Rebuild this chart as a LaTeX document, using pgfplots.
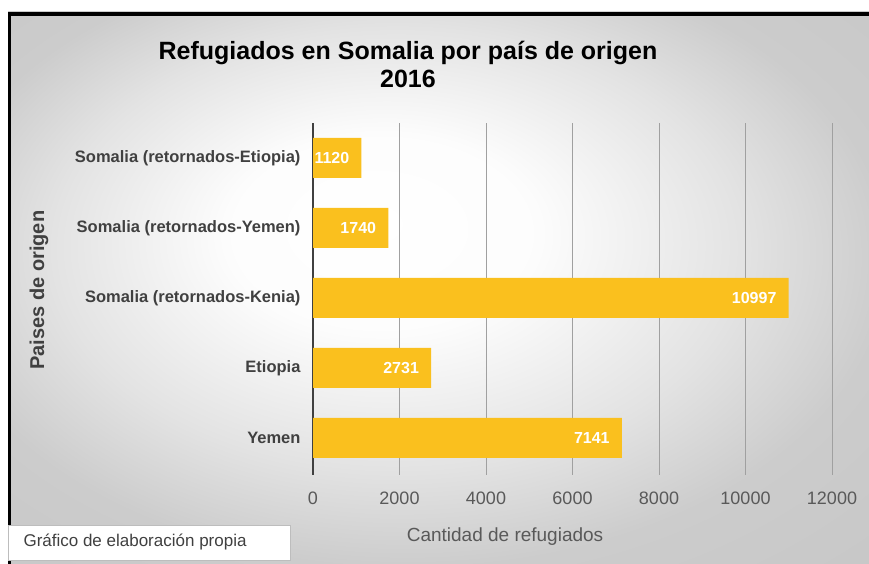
\documentclass[border=0pt]{standalone}
\usepackage{pgfplots}
\pgfplotsset{compat=1.18}
\usepackage{fontspec}
\setmainfont{Liberation Sans}
\definecolor{barcol}{RGB}{250,192,30}
\definecolor{labgray}{RGB}{64,64,64}
\definecolor{tickgray}{RGB}{89,89,89}
\definecolor{gridgray}{RGB}{160,160,160}
\pgfdeclareradialshading{bgshade}{\pgfpoint{-4bp}{6bp}}{%
  rgb(0bp)=(1,1,1); rgb(9bp)=(0.99,0.99,0.99); rgb(20bp)=(0.89,0.89,0.89);
  rgb(28bp)=(0.80,0.80,0.80); rgb(50bp)=(0.76,0.76,0.76)}
\begin{document}
\begin{tikzpicture}[x=1pt,y=1pt]
  \useasboundingbox (0,0) rectangle (869,564);
  \fill[white] (0,0) rectangle (869,564);
  \shade[shading=bgshade] (8,0) rectangle (869,552);
  \fill[black] (8,548) rectangle (869,552);
  \fill[black] (8,0) rectangle (11,552);

  \node[font=\bfseries\fontsize{25}{28}\selectfont, align=center] at (408,500)
    {Refugiados en Somalia por país de origen\\2016};

  \begin{axis}[
      at={(313pt,89pt)}, anchor=south west,
      scale only axis, width=519pt, height=352pt,
      xbar, bar width=40pt,
      xmin=0, xmax=12000, ymin=-0.53, ymax=4.5,
      xtick={0,2000,...,12000},
      ytick={0,1,2,3,4},
      yticklabels={Yemen, Etiopia, Somalia (retornados-Kenia),
        Somalia (retornados-Yemen), Somalia (retornados-Etiopia)},
      scaled x ticks=false,
      /pgf/number format/1000 sep={},
      /pgf/number format/assume math mode=true,
      axis y line*=left, axis x line*=bottom,
      x axis line style={draw=none},
      y axis line style={draw=labgray, line width=1.6pt},
      major tick length=0pt,
      xmajorgrids, grid style={gridgray, line width=0.9pt},
      x tick label style={font=\fontsize{18}{18}\selectfont, text=tickgray, yshift=-13pt},
      y tick label style={font=\bfseries\fontsize{16.5}{17}\selectfont, text=labgray, xshift=-9pt},
      xlabel={Cantidad de refugiados},
      xlabel style={at={(axis description cs:0.37,-0.176)}, anchor=center,
        font=\fontsize{19}{19}\selectfont, text=tickgray},
      ylabel={Paises de origen},
      ylabel style={at={(axis description cs:-0.528,0.525)}, anchor=center, rotate=0,
        font=\bfseries\fontsize{20}{20}\selectfont, text=labgray},
      nodes near coords,
      nodes near coords style={anchor=east, xshift=-11pt, inner sep=1pt,
        text=white, font=\bfseries\fontsize{16}{16}\selectfont},
    ]
    \addplot[fill=barcol, draw=none] coordinates {
      (7141,0) (2731,1) (10997,2) (1740,3) (1120,4)};
  \end{axis}

  \draw[fill=white, draw=gridgray!70, line width=0.8pt] (8,4) rectangle (290,39);
  \node[anchor=west, font=\fontsize{17}{17}\selectfont, text=labgray] at (20,21.5)
    {Gráfico de elaboración propia};
\end{tikzpicture}
\end{document}
